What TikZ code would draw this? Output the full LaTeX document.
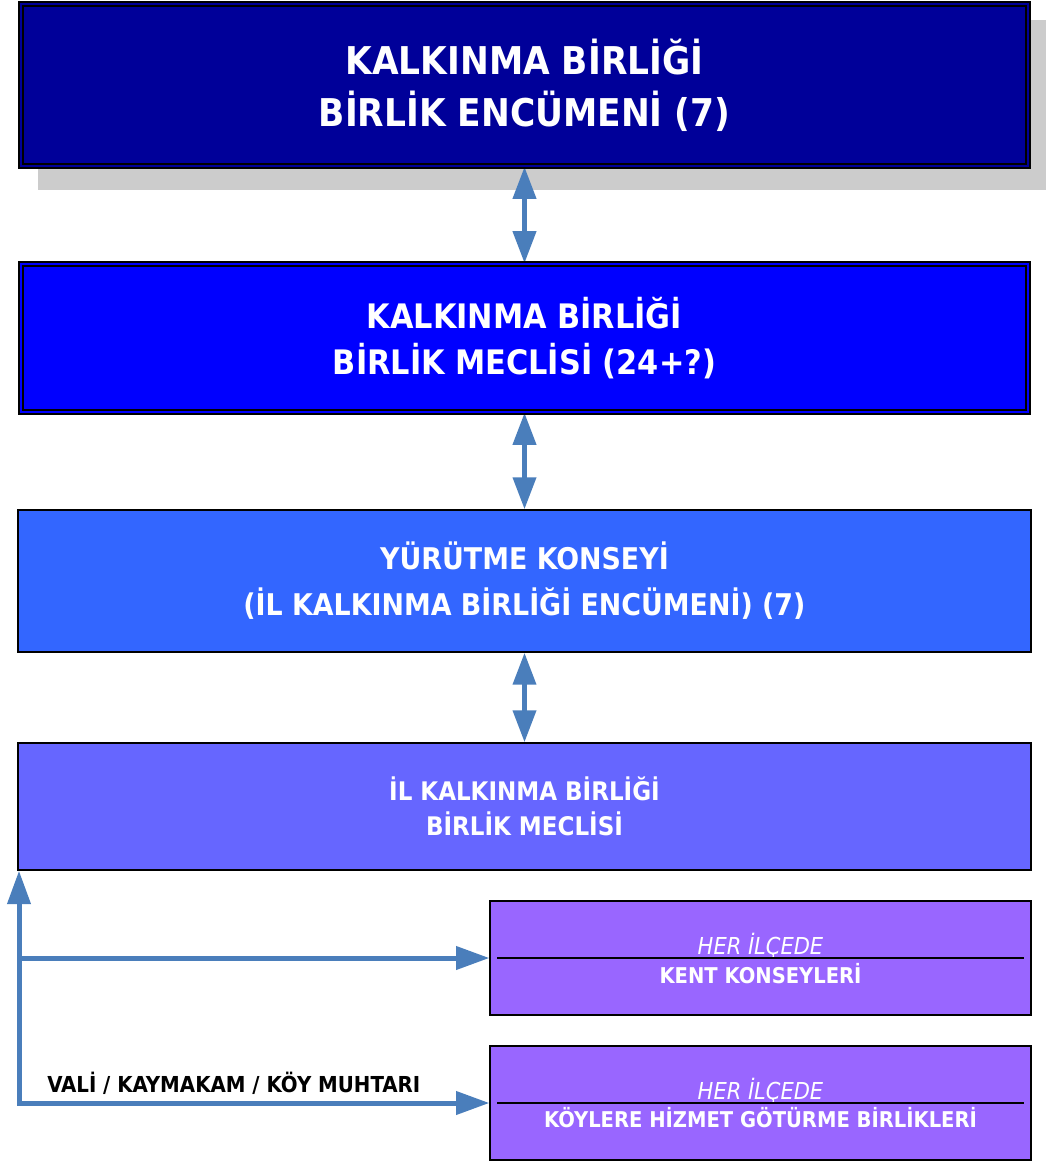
\documentclass[tikz,border=0pt]{standalone}
\usepackage{fontspec}
\setmainfont{DejaVu Sans Condensed}
\usetikzlibrary{arrows.meta,backgrounds}
\definecolor{cA}{HTML}{000099}
\definecolor{cB}{HTML}{0000FF}
\definecolor{cC}{HTML}{3366FF}
\definecolor{cD}{HTML}{6666FF}
\definecolor{cE}{HTML}{9966FF}
\definecolor{cArr}{HTML}{4A7EBB}
\definecolor{cShadow}{HTML}{CCCCCC}
\tikzset{
  dblbox/.style={draw=black, line width=1.2pt, double distance=2.2pt, inner sep=0pt, align=center, text=white},
  plainbox/.style={draw=black, line width=1.1pt, inner sep=0pt, align=center, text=white},
  thinbox/.style={draw=black, line width=0.9pt, inner sep=0pt, align=center, text=white},
  vconn/.style={draw=cArr, line width=3.75pt, {Triangle[length=24pt,width=17pt]}-{Triangle[length=24pt,width=17pt]}},
  hconn/.style={draw=cArr, line width=3.75pt},
  hhead/.style={-{Triangle[length=25pt,width=17pt]}},
  sepline/.style={draw=black, line width=0.9pt},
  lbltext/.style={font=\fontsize{16.5}{19}\selectfont\bfseries, text=black, inner sep=0pt}
}
\begin{document}
\begin{tikzpicture}[x=0.75pt,y={(0pt,-0.75pt)}]
\useasboundingbox (0,0) rectangle (1046,1163);
% boxes
\node[dblbox, double=cA, fill=cA, minimum width=755.25pt, minimum height=121.5pt,
      font=\fontsize{28.7}{39}\selectfont\bfseries] (b1) at (524.5,85)
  {KALKINMA BİRLİĞİ\\BİRLİK ENCÜMENİ (7)};
\node[dblbox, double=cB, fill=cB, minimum width=755.25pt, minimum height=111pt,
      font=\fontsize{25.3}{35}\selectfont\bfseries] (b2) at (524.5,338)
  {KALKINMA BİRLİĞİ\\BİRLİK MECLİSİ (24+?)};
\node[plainbox, fill=cC, minimum width=759.75pt, minimum height=106.5pt,
      font=\fontsize{22.4}{34.5}\selectfont\bfseries] (b3) at (524.5,581)
  {YÜRÜTME KONSEYİ\\(İL KALKINMA BİRLİĞİ ENCÜMENİ) (7)};
\node[plainbox, fill=cD, minimum width=759.75pt, minimum height=95.25pt,
      font=\fontsize{19.2}{26}\selectfont\bfseries] (b4) at (524.5,806.5)
  {İL KALKINMA BİRLİĞİ\\BİRLİK MECLİSİ};
\node[thinbox, fill=cE, minimum width=405.75pt, minimum height=85.5pt,
      font=\fontsize{16.3}{21.75}\selectfont] (b5) at (760.5,958)
  {{\fontsize{17.5}{21.75}\selectfont\itshape HER İLÇEDE}\\\bfseries KENT KONSEYLERİ};
\node[thinbox, fill=cE, minimum width=405.75pt, minimum height=85.5pt,
      font=\fontsize{16.3}{21}\selectfont] (b6) at (760.5,1103)
  {{\fontsize{17.5}{21}\selectfont\itshape HER İLÇEDE}\\\bfseries KÖYLERE HİZMET GÖTÜRME BİRLİKLERİ};
% separator lines
\draw[sepline] ([xshift=6pt]b5.west) -- ([xshift=-6pt]b5.east);
\draw[sepline] ([xshift=6pt]b6.west) -- ([xshift=-6pt]b6.east);
% label
\node[lbltext, anchor=west] (lbl) at (47,1083) {VALİ / KAYMAKAM / KÖY MUHTARI};
\coordinate (c) at (19,1103);
\begin{scope}[on background layer]
  \fill[cShadow] (38,20) rectangle (1046,190);
  \draw[vconn] (b1.south) -- (b2.north);
  \draw[vconn] (b2.south) -- (b3.north);
  \draw[vconn] (b3.south) -- (b4.north);
\end{scope}
\draw[hconn, {Triangle[length=25pt,width=17pt]}-{Triangle[length=25pt,width=17pt]}]
  (c |- b4.south) -- (c) -- (b6.west);
\draw[hconn, hhead] (c |- b5.west) -- (b5.west);
\end{tikzpicture}
\end{document}
